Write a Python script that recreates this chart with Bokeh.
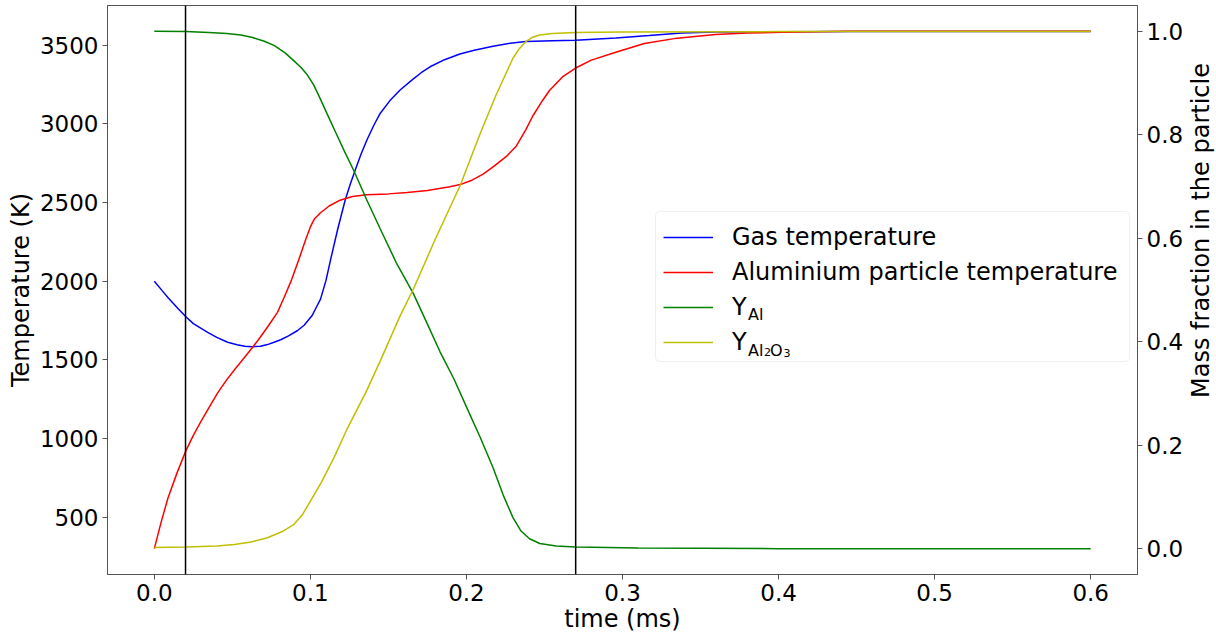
import math
from bokeh.plotting import figure
from bokeh.layouts import row
from bokeh.models import (Range1d, LinearAxis, FixedTicker, PrintfTickFormatter,
                          Span, Legend, LegendItem, Label, BoxAnnotation)
from bokeh.embed import file_html
from bokeh.resources import INLINE

# ---------------- data ----------------
t_gas = [0.000, 0.005, 0.0087, 0.015, 0.0204, 0.025, 0.030, 0.0342, 0.040, 0.047,
         0.053, 0.058, 0.063, 0.068, 0.0725, 0.0767, 0.081, 0.086, 0.0916, 0.096,
         0.101, 0.1035, 0.1065, 0.110, 0.113, 0.1175, 0.1224, 0.1256, 0.1288, 0.1325,
         0.1363, 0.1405, 0.1448, 0.151, 0.1575, 0.165, 0.171, 0.1767, 0.186, 0.1958,
         0.205, 0.217, 0.228, 0.238, 0.255, 0.270, 0.2957, 0.317, 0.338, 0.3595,
         0.40, 0.45, 0.50, 0.55, 0.60]
T_gas = [2000, 1940, 1897, 1828, 1772, 1730, 1700, 1675, 1643, 1612,
         1596, 1587, 1584, 1587, 1597, 1612, 1628, 1652, 1685, 1720,
         1780, 1828, 1886, 2005, 2139, 2330, 2519, 2618, 2709, 2808,
         2899, 2988, 3068, 3148, 3215, 3278, 3325, 3363, 3408, 3444,
         3468, 3494, 3512, 3524, 3529, 3532, 3546, 3561, 3578, 3584,
         3586, 3587, 3587, 3587, 3587]

t_part = [0.000, 0.0045, 0.0087, 0.0145, 0.0204, 0.025, 0.030, 0.0355, 0.0406, 0.046,
          0.052, 0.0575, 0.063, 0.068, 0.073, 0.0789, 0.0831, 0.088, 0.0925, 0.097,
          0.100, 0.1025, 0.1065, 0.112, 0.119, 0.127, 0.136, 0.150, 0.162, 0.175,
          0.1894, 0.196, 0.2035, 0.2107, 0.2175, 0.2256, 0.232, 0.238, 0.2425, 0.249,
          0.2532, 0.2617, 0.270, 0.280, 0.2957, 0.314, 0.335, 0.3595, 0.380, 0.402,
          0.4445, 0.50, 0.55, 0.60]
T_part = [300, 473, 620, 780, 926, 1020, 1110, 1205, 1290, 1368,
          1445, 1512, 1580, 1645, 1715, 1802, 1895, 2010, 2135, 2265,
          2345, 2395, 2435, 2478, 2515, 2538, 2550, 2555, 2563, 2577,
          2600, 2614, 2642, 2680, 2730, 2793, 2860, 2962, 3050, 3152,
          3212, 3300, 3355, 3405, 3455, 3511, 3545, 3568, 3577, 3583,
          3588, 3588, 3588, 3588]

t_al = [0.000, 0.020, 0.035, 0.0465, 0.0555, 0.063, 0.0705, 0.0767, 0.084, 0.0895,
        0.094, 0.098, 0.102, 0.106, 0.1108, 0.116, 0.122, 0.1278, 0.136, 0.1448,
        0.155, 0.166, 0.175, 0.183, 0.192, 0.200, 0.209, 0.217, 0.2235, 0.2298,
        0.235, 0.2404, 0.247, 0.2574, 0.270, 0.310, 0.400, 0.500, 0.600]
Y_al = [1.000, 0.9995, 0.998, 0.996, 0.993, 0.988, 0.981, 0.973, 0.958, 0.943,
        0.930, 0.916, 0.897, 0.872, 0.840, 0.806, 0.767, 0.731, 0.675, 0.618,
        0.553, 0.493, 0.434, 0.381, 0.328, 0.274, 0.214, 0.157, 0.104, 0.060,
        0.034, 0.019, 0.010, 0.005, 0.003, 0.001, 0.000, 0.000, 0.000]

t_ox = [0.000, 0.020, 0.040, 0.0512, 0.062, 0.0725, 0.082, 0.0895, 0.095, 0.100,
        0.107, 0.115, 0.123, 0.136, 0.1448, 0.1575, 0.166, 0.180, 0.196, 0.2085,
        0.219, 0.2298, 0.234, 0.238, 0.242, 0.247, 0.255, 0.270, 0.300, 0.400,
        0.500, 0.600]
Y_ox = [0.002, 0.003, 0.005, 0.008, 0.013, 0.021, 0.033, 0.047, 0.066, 0.092,
        0.128, 0.175, 0.228, 0.305, 0.363, 0.450, 0.502, 0.598, 0.702, 0.800,
        0.877, 0.948, 0.967, 0.980, 0.988, 0.993, 0.996, 0.998, 0.999, 0.9995,
        0.9995, 0.9995]

events = [0.02, 0.27]            # vertical markers (ms)
x_ticks = [0.0, 0.1, 0.2, 0.3, 0.4, 0.5, 0.6]
T_ticks = [500, 1000, 1500, 2000, 2500, 3000, 3500]
Y_ticks = [0.0, 0.2, 0.4, 0.6, 0.8, 1.0]
legend_labels = ["Gas temperature", "Aluminium particle temperature", "Y", "Y"]
x_label = "time (ms)"
yl_label = "Temperature (K)"
yr_label = "Mass fraction in the particle"

# ---------------- layout ----------------
FONT = "DejaVu Sans"
AX = "#555555"
W, H = 1186, 635          # main figure
W2 = 1216 - W             # strip holding the right-hand axis title
FRAME_LEFT, FRAME_RIGHT, FRAME_TOP, FRAME_BOTTOM = 107, 1140, 5, 577   # page px


def padded(lo, hi, frac=0.05):
    d = (hi - lo) * frac
    return lo - d, hi + d


all_t = t_gas + t_part + t_al + t_ox
all_T = T_gas + T_part
all_Y = Y_al + Y_ox
x0, x1 = padded(min(all_t), max(all_t))
T0, T1 = padded(min(all_T), max(all_T))
Y0, Y1 = padded(min(all_Y), max(all_Y))

p = figure(width=W, height=H, output_backend="svg", toolbar_location=None,
           x_range=Range1d(x0, x1), y_range=Range1d(T0, T1),
           min_border_left=FRAME_LEFT, min_border_right=W - FRAME_RIGHT,
           min_border_top=FRAME_TOP, min_border_bottom=H - FRAME_BOTTOM,
           background_fill_color="white", border_fill_color="white")
p.extra_y_ranges = {"frac": Range1d(Y0, Y1)}
p.xgrid.visible = False
p.ygrid.visible = False
p.outline_line_color = AX
p.outline_line_width = 1

right = LinearAxis(y_range_name="frac")
p.add_layout(right, "right")

p.xaxis[0].ticker = FixedTicker(ticks=x_ticks)
p.xaxis[0].formatter = PrintfTickFormatter(format="%.1f")
p.yaxis[0].ticker = FixedTicker(ticks=T_ticks)
right.ticker = FixedTicker(ticks=Y_ticks)
right.formatter = PrintfTickFormatter(format="%.1f")

p.xaxis[0].axis_label = x_label
p.yaxis[0].axis_label = yl_label

for ax in [p.xaxis[0], p.yaxis[0], right]:
    ax.major_label_text_font = FONT
    ax.major_label_text_font_size = "23px"
    ax.major_label_text_color = "black"
    ax.axis_label_text_font = FONT
    ax.axis_label_text_font_size = "24px"
    ax.axis_label_text_font_style = "normal"
    ax.axis_label_text_color = "black"
    ax.major_tick_out = 5
    ax.major_tick_in = 0
    ax.minor_tick_out = 0
    ax.minor_tick_in = 0
    ax.axis_line_color = AX
    ax.major_tick_line_color = AX
p.xaxis[0].major_label_standoff = 4
p.xaxis[0].axis_label_standoff = 1
p.yaxis[0].major_label_standoff = 4
p.yaxis[0].axis_label_standoff = 2
right.major_label_standoff = 4

# ---------------- lines ----------------
r_gas = p.line(t_gas, T_gas, line_color="#0000ff", line_width=1.5)
r_part = p.line(t_part, T_part, line_color="#ff0000", line_width=1.5)
for ev in events:
    p.add_layout(Span(location=ev, dimension="height", line_color="black",
                      line_width=1.5))
r_al = p.line(t_al, Y_al, line_color="#008000", line_width=1.5, y_range_name="frac")
r_ox = p.line(t_ox, Y_ox, line_color="#bfbf00", line_width=1.5, y_range_name="frac")

# ---------------- legend ----------------
box_left, box_right, box_top, box_bottom = 655, 1129, 214, 364   # page px
box = BoxAnnotation(left=box_left - FRAME_LEFT, right=box_right - FRAME_LEFT,
                    top=FRAME_BOTTOM - box_top, bottom=FRAME_BOTTOM - box_bottom,
                    left_units="screen", right_units="screen",
                    top_units="screen", bottom_units="screen",
                    fill_color="white", fill_alpha=0.8,
                    line_color="#cccccc", line_width=1, level="annotation")
try:
    box.border_radius = 4
except AttributeError:
    pass
p.add_layout(box)

legend = Legend(
    items=[LegendItem(label=lab, renderers=[r])
           for lab, r in zip(legend_labels, [r_gas, r_part, r_al, r_ox])],
    location=(663 - FRAME_LEFT, FRAME_BOTTOM - 359),
    label_text_font=FONT, label_text_font_size="24px", label_text_color="black",
    glyph_width=50, glyph_height=28, label_height=28, label_standoff=19,
    padding=8, spacing=7, margin=0,
    border_line_color=None, background_fill_alpha=0.0,
)
p.add_layout(legend)

# subscripts for the mass-fraction labels (page px positions)
subs = [("Al", 747.6, 317.3, "16px"),
        ("Al", 747.6, 352.5, "16px"),
        ("2", 763.6, 354.0, "11px"),
        ("O", 769.6, 352.5, "16px"),
        ("3", 783.0, 355.0, "11px")]
for txt, xp, yp, fs in subs:
    p.add_layout(Label(x=xp - FRAME_LEFT, y=FRAME_BOTTOM - yp,
                       x_units="screen", y_units="screen", text=txt,
                       text_font=FONT, text_font_size=fs, text_color="black",
                       text_baseline="alphabetic", text_align="left",
                       level="overlay"))

# ---------------- right-hand axis title strip ----------------
p2 = figure(width=W2, height=H, output_backend="svg", toolbar_location=None,
            x_range=Range1d(0, 1), y_range=Range1d(0, 1),
            x_axis_location=None, y_axis_location=None,
            min_border=0, background_fill_color="white", border_fill_color="white")
p2.outline_line_color = None
p2.xgrid.visible = False
p2.ygrid.visible = False
p2.add_layout(Label(x=1200 - W, y=H - (FRAME_TOP + FRAME_BOTTOM) / 2,
                    x_units="screen", y_units="screen", text=yr_label,
                    angle=math.pi / 2, text_font=FONT, text_font_size="24px",
                    text_color="black", text_align="center", text_baseline="middle"))

layout = row(p, p2, spacing=0)
open("out.html", "w").write(file_html(layout, INLINE))
